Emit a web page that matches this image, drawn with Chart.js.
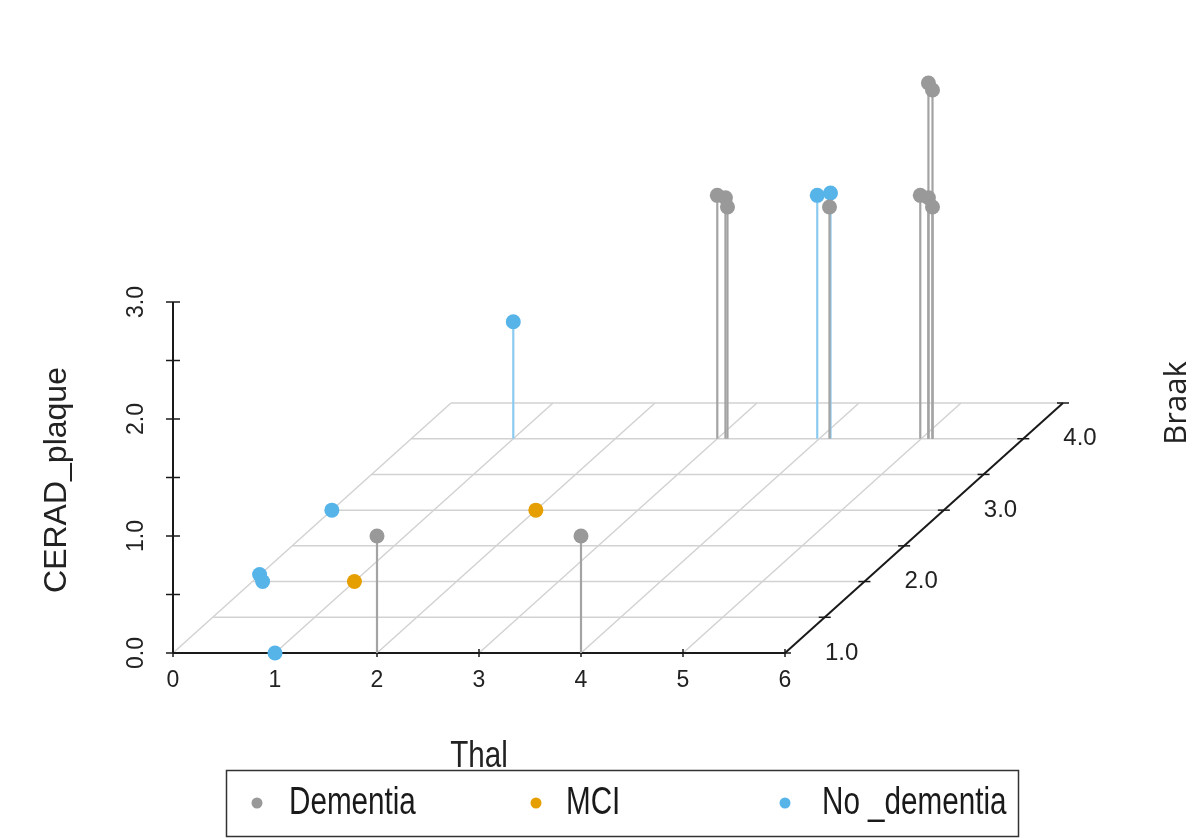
<!DOCTYPE html>
<html>
<head>
<meta charset="utf-8">
<script src="https://cdn.jsdelivr.net/npm/chart.js@4.4.1/dist/chart.umd.min.js"></script>
<style>
  html, body { margin: 0; padding: 0; background: #fff; }
  #chart { display: block; }
</style>
</head>
<body>
<canvas id="chart" width="1194" height="839"></canvas>
<script>
// Data (Thal, Braak, CERAD_plaque, with the small jitter seen)
const groups = ['Dementia', 'MCI', 'No _dementia'];
const groupColors = ['#999999', '#E69F00', '#56B4E9'];
const stemColors = ['#a3a3a3', '#E69F00', '#8ccbf0'];

const dementiaThal  = [2, 4, 3.00, 3.08, 3.10, 4.10, 5.07, 5.11, 4.99, 5.07, 5.11];
const dementiaBraak = [1, 1, 4, 4, 4, 4, 4, 4, 4, 4, 4];
const dementiaCerad = [1, 1, 2.08, 2.06, 1.98, 1.98, 3.04, 2.98, 2.08, 2.06, 1.98];

const mciThal  = [1, 2];
const mciBraak = [2, 3];
const mciCerad = [0, 0];

const noDemThal  = [1, 0.07, 0.10, 0, 1, 3.98, 4.11];
const noDemBraak = [1, 2, 2, 3, 4, 4, 4];
const noDemCerad = [0, 0.06, 0, 0, 1, 2.08, 2.10];

// Axis ticks
const thalTicks = [0, 1, 2, 3, 4, 5, 6];
const braakTicks = [1.0, 1.5, 2.0, 2.5, 3.0, 3.5, 4.0, 4.5];
const braakLabels = ['1.0', '2.0', '3.0', '4.0'];
const ceradTicks = [0, 0.5, 1, 1.5, 2, 2.5, 3];
const ceradLabels = ['0.0', '1.0', '2.0', '3.0'];

// Oblique projection of the Braak (depth) axis onto the page
const braakMin = 1.0, braakMax = 4.5;
const depthX = 278 / 102 / (braakMax - braakMin);   // in Thal units per Braak unit
const depthY = 250 / 117 / (braakMax - braakMin);   // in CERAD units per Braak unit

function project(t, b, c) {
  return { x: t + (b - braakMin) * depthX, y: c + (b - braakMin) * depthY };
}

const series = [
  [dementiaThal, dementiaBraak, dementiaCerad],
  [mciThal, mciBraak, mciCerad],
  [noDemThal, noDemBraak, noDemCerad]
];

const datasets = [];
series.forEach((s, g) => {
  const [th, br, ce] = s;
  // stems from the floor up to the point
  th.forEach((t, i) => {
    datasets.push({
      type: 'line',
      data: [project(t, br[i], 0), project(t, br[i], ce[i])],
      borderColor: stemColors[g],
      borderWidth: 2.2,
      pointRadius: 0,
      fill: false,
      order: 3
    });
  });
});
series.forEach((s, g) => {
  const [th, br, ce] = s;
  datasets.push({
    type: 'scatter',
    label: groups[g],
    data: th.map((t, i) => project(t, br[i], ce[i])),
    backgroundColor: groupColors[g],
    borderColor: groupColors[g],
    pointRadius: 7.5,
    borderWidth: 0,
    order: 1
  });
});

function text(ctx, str, x, y, opt) {
  ctx.save();
  ctx.translate(x, y);
  if (opt.rot) ctx.rotate(opt.rot);
  if (opt.sx) ctx.scale(opt.sx, 1);
  ctx.font = opt.font;
  ctx.fillStyle = opt.color || '#222';
  ctx.textAlign = opt.align || 'center';
  ctx.textBaseline = 'middle';
  ctx.fillText(str, 0, 0);
  ctx.restore();
}

const box3d = {
  id: 'box3d',
  beforeDatasetsDraw(chart) {
    const { ctx, scales: { x, y } } = chart;
    const px = p => [x.getPixelForValue(p.x), y.getPixelForValue(p.y)];
    const seg = (a, b, color, w) => {
      const [x1, y1] = px(a), [x2, y2] = px(b);
      ctx.beginPath();
      ctx.strokeStyle = color;
      ctx.lineWidth = w;
      ctx.moveTo(x1, y1);
      ctx.lineTo(x2, y2);
      ctx.stroke();
    };
    ctx.save();
    ctx.lineCap = 'butt';
    // floor grid
    braakTicks.forEach(b => {
      if (b === braakMin) return;
      seg(project(0, b, 0), project(6, b, 0), '#d2d2d2', 1.5);
    });
    thalTicks.forEach(t => {
      if (t === 6) return;
      seg(project(t, braakMin, 0), project(t, braakMax, 0), '#d2d2d2', 1.5);
    });
    // x axis (Thal)
    seg(project(0, braakMin, 0), project(6, braakMin, 0), '#1a1a1a', 2);
    thalTicks.forEach(t => {
      const [cx, cy] = px(project(t, braakMin, 0));
      ctx.beginPath(); ctx.strokeStyle = '#1a1a1a'; ctx.lineWidth = 1.5;
      ctx.moveTo(cx, cy - 4); ctx.lineTo(cx, cy + 4); ctx.stroke();
      text(ctx, String(t), cx, cy + 28, { font: '23px "Liberation Sans", Arial, sans-serif' });
    });
    // z axis (CERAD_plaque)
    seg(project(0, braakMin, 0), project(0, braakMin, 3), '#1a1a1a', 2);
    ceradTicks.forEach(c => {
      const [cx, cy] = px(project(0, braakMin, c));
      ctx.beginPath(); ctx.strokeStyle = '#1a1a1a'; ctx.lineWidth = 1.5;
      ctx.moveTo(cx - 7, cy); ctx.lineTo(cx + 7, cy); ctx.stroke();
    });
    ceradLabels.forEach(l => {
      const [cx, cy] = px(project(0, braakMin, parseFloat(l)));
      text(ctx, l, cx - 36, cy, { font: '23px "Liberation Sans", Arial, sans-serif', rot: -Math.PI / 2 });
    });
    // depth axis (Braak)
    seg(project(6, braakMin, 0), project(6, braakMax, 0), '#1a1a1a', 2);
    braakTicks.forEach(b => {
      const [cx, cy] = px(project(6, b, 0));
      ctx.beginPath(); ctx.strokeStyle = '#1a1a1a'; ctx.lineWidth = 1.5;
      ctx.moveTo(cx - 6, cy); ctx.lineTo(cx + 6, cy); ctx.stroke();
    });
    braakLabels.forEach(l => {
      const [cx, cy] = px(project(6, parseFloat(l), 0));
      text(ctx, l, cx + 40, cy, { font: '24px "Liberation Sans", Arial, sans-serif', align: 'left' });
    });
    ctx.restore();
  },
  afterDraw(chart) {
    const { ctx } = chart;
    ctx.save();
    text(ctx, 'CERAD_plaque', 57, 480, { font: '32px "Liberation Sans", Arial, sans-serif', rot: -Math.PI / 2 });
    text(ctx, 'Thal', 479, 757, { font: '37px "Liberation Sans", Arial, sans-serif', sx: 0.8 });
    text(ctx, 'Braak', 1177, 403, { font: '31px "Open Sans", "Noto Sans", sans-serif', rot: -Math.PI / 2 });
    // legend
    ctx.strokeStyle = '#333';
    ctx.lineWidth = 1.5;
    ctx.strokeRect(226.5, 770.5, 792, 66);
    const lx = [257, 536, 785];
    const tx = [289, 566, 822];
    groups.forEach((g, i) => {
      ctx.beginPath();
      ctx.fillStyle = groupColors[i];
      ctx.arc(lx[i], 803, 5.5, 0, Math.PI * 2);
      ctx.fill();
      text(ctx, g, tx[i], 804, { font: '38px "Liberation Sans", Arial, sans-serif', align: 'left', sx: 0.78, color: '#1a1a1a' });
    });
    ctx.restore();
  }
};

new Chart(document.getElementById('chart').getContext('2d'), {
  data: { datasets },
  options: {
    responsive: false,
    devicePixelRatio: 1,
    animation: false,
    events: [],
    layout: { padding: 0, autoPadding: false },
    plugins: { legend: { display: false }, tooltip: { enabled: false } },
    scales: {
      x: { type: 'linear', display: false, min: -173 / 102, max: (1194 - 173) / 102 },
      y: { type: 'linear', display: false, min: -(839 - 653) / 117, max: 653 / 117 }
    }
  },
  plugins: [box3d]
});
</script>
</body>
</html>
